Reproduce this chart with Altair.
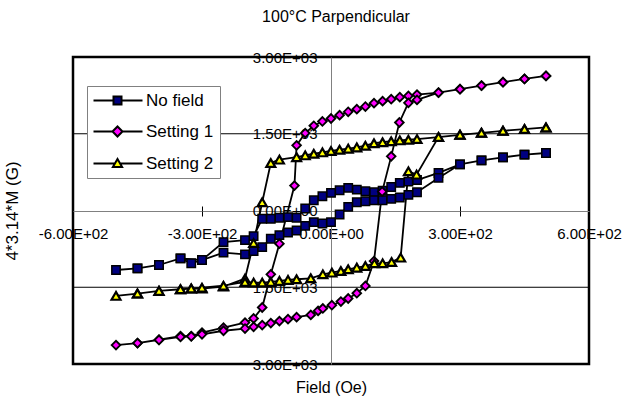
import altair as alt
import pandas as pd

FONT = "Liberation Sans"

SERIES = ["No field", "Setting 1", "Setting 2"]
FILLS = ["#000080", "#FF00FF", "#FFFF00"]
SHAPES = ["square", "diamond", "triangle-up"]
MARKER_SIZES = [70, 80, 80]
MARKER_STROKES = [1.5, 2.2, 2.0]

# Field (Oe) and 4*3.14*M (G), in the order the points are joined
NF_H = [500, 450, 400, 350, 300, 250, 200, 180, 160, 140, 120, 100, 80, 60, 40, 20, 0,
        -20, -40, -60, -80, -100, -120, -140, -160, -180, -200, -250, -300, -325, -350,
        -400, -450, -500,
        -450, -400, -350, -300, -250, -200, -180, -160, -140, -120, -100, -80, -60, -40,
        -20, 0, 20, 40, 60, 80, 100, 120, 140, 160, 180, 200, 250, 300, 350, 400, 450, 500]
NF_M = [1124, 1091, 1038, 980, 902, 734, 595, 565, 539, 460, 385, 357, 376, 409, 442, 396, 345,
        279, 201, 40, -142, -130, -142, -162, -162, -500, -578, -617, -968, -1032, -935,
        -1065, -1130, -1163,
        -1130, -1065, -935, -968, -824, -857, -793, -715, -552, -481, -430, -390, -300, -228,
        -253, -228, -78, 72, 162, 181, 201, 201, 228, 253, 305, 357, 637, 902, 980, 1038, 1091, 1124]

S1_H = [500, 450, 400, 350, 300, 250, 200, 180, 160, 140, 120, 100, 80, 60, 40, 20, 0,
        -20, -40, -60, -80, -85, -120, -140, -160, -180, -200, -250, -300, -325, -350,
        -400, -450, -500,
        -450, -400, -350, -325, -300, -250, -200, -180, -160, -140, -120, -100, -80, -47,
        -30, -19, 2, 23, 40, 60, 80, 100, 119, 140, 159, 180, 200, 250, 300, 350, 400, 450, 500]
S1_M = [2630, 2571, 2507, 2441, 2370, 2305, 2266, 2240, 2215, 2175, 2137, 2098, 2032, 1981, 1929, 1864, 1798,
        1740, 1656, 1513, 1273, 487, -649, -1247, -1896, -2110, -2190, -2290, -2386, -2455, -2455,
        -2526, -2591, -2630,
        -2591, -2530, -2470, -2460, -2420, -2350, -2307, -2273, -2240, -2201, -2162, -2123, -2084, -2040,
        -1962, -1915, -1851, -1779, -1720, -1617, -1475, -988, 370, 1058, 1720, 2104, 2162, 2305, 2370,
        2441, 2507, 2571, 2630]

S2_H = [500, 450, 400, 350, 300, 250, 200, 180, 160, 140, 120, 100, 80, 60, 40, 20, 0,
        -20, -40, -60, -80, -120, -140, -160, -180, -200, -250, -300, -325, -350,
        -400, -450, -500,
        -450, -400, -350, -325, -300, -250, -200, -180, -160, -140, -120, -100, -80, -47,
        -19, 2, 23, 40, 60, 80, 101, 120, 141, 162, 180, 199, 250, 300, 350, 400, 450, 500]
S2_M = [1623, 1591, 1558, 1519, 1480, 1435, 1396, 1383, 1370, 1354, 1334, 1315, 1266, 1233, 1208, 1188, 1163,
        1136, 1110, 1077, 1042, 994, 929, 162, -637, -1330, -1486, -1525, -1525, -1539,
        -1572, -1623, -1669,
        -1623, -1572, -1539, -1525, -1510, -1470, -1397, -1409, -1409, -1396, -1376, -1357, -1344, -1325,
        -1247, -1214, -1182, -1149, -1117, -1085, -1032, -1032, -1007, -921, 766, 701, 1435, 1480,
        1519, 1558, 1591, 1623]

X_TICKS = [-600, -300, 0, 300, 600]
X_LABELS = ["-6.00E+02", "-3.00E+02", "0.00E+00", "3.00E+02", "6.00E+02"]
Y_TICKS = [-3000, -1500, 0, 1500, 3000]
Y_LABELS = ["3.00E+03", "1.50E+03", "0.00E+00", "1.50E+03", "3.00E+03"]
GRID_Y = [-1500, 1500]
X_MINOR = [-300, 0, 300]

rows = []
for name, hs, ms in [(SERIES[0], NF_H, NF_M), (SERIES[1], S1_H, S1_M), (SERIES[2], S2_H, S2_M)]:
    for i, (h, m) in enumerate(zip(hs, ms)):
        rows.append({"series": name, "idx": i, "H": h, "M": m})
df = pd.DataFrame(rows)
grid_df = pd.DataFrame({"M": GRID_Y})


def label_expr(vals, labels):
    parts = [f"datum.value == {v} ? '{l}'" for v, l in zip(vals, labels)]
    return " : ".join(parts) + " : ''"


W, H = 516, 307
PAD_L, PAD_T = 73, 57
xscale = alt.Scale(domain=[-600, 600], nice=False, zero=False)
yscale = alt.Scale(domain=[-3000, 3000], nice=False, zero=False)

x_axis = alt.Axis(values=X_TICKS, labelExpr=label_expr(X_TICKS, X_LABELS), orient="bottom",
                  offset=-(H / 2 - 0.5), domainColor="#808080", domainWidth=1,
                  ticks=True, tickColor="black", tickSize=5, tickWidth=1,
                  labelPadding=10, labelFont=FONT, labelFontSize=15, labelColor="black",
                  labelFlush=False, labelOverlap=False, grid=False,
                  title="Field (Oe)", titleFont=FONT, titleFontSize=16, titleFontWeight="normal",
                  titleColor="black", titleX=W / 2, titleY=176, titleAlign="center",
                  titleBaseline="middle")
y_axis = alt.Axis(values=Y_TICKS, labelExpr=label_expr(Y_TICKS, Y_LABELS), orient="left",
                  offset=-W / 2, domainColor="#808080", domainWidth=1,
                  ticks=False, labelPadding=14, labelFont=FONT, labelFontSize=15,
                  labelColor="black", labelAlign="right", labelBaseline="middle",
                  labelFlush=False, labelOverlap=False, grid=False,
                  title="4*3.14*M (G)", titleFont=FONT, titleFontSize=17, titleFontWeight="normal",
                  titleColor="black", titleAngle=270, titleX=12 - (PAD_L + W / 2),
                  titleY=H / 2, titleAlign="center", titleBaseline="middle")
x_top = alt.Axis(values=X_MINOR, orient="top", offset=-(H / 2 + 0.5), labels=False, domain=False,
                 ticks=True, tickColor="black", tickSize=5, tickWidth=1, grid=False, title=None)

grid = alt.Chart(grid_df).mark_rule(color="black", strokeWidth=1).encode(
    y=alt.Y("M:Q", scale=yscale, axis=y_axis)
)

lines = alt.Chart(df).mark_line(color="black", strokeWidth=1.8).encode(
    x=alt.X("H:Q", scale=xscale, axis=x_axis),
    y=alt.Y("M:Q", scale=yscale, axis=y_axis),
    detail="series:N",
    order="idx:Q",
)

points = alt.Chart(df).mark_point(filled=True, stroke="black", opacity=1).encode(
    x=alt.X("H:Q", scale=xscale, axis=x_top),
    y=alt.Y("M:Q", scale=yscale, axis=y_axis),
    fill=alt.Fill("series:N", scale=alt.Scale(domain=SERIES, range=FILLS), legend=None),
    shape=alt.Shape("series:N", scale=alt.Scale(domain=SERIES, range=SHAPES), legend=None),
    size=alt.Size("series:N", scale=alt.Scale(domain=SERIES, range=MARKER_SIZES), legend=None),
    strokeWidth=alt.StrokeWidth("series:N", scale=alt.Scale(domain=SERIES, range=MARKER_STROKES),
                                legend=None),
)

# legend symbols: a short line with the series marker in it (unit = 4 px)
LEG_PATHS = [
    "M-2,0H3M5,0H10.25M3,-1H5V1H3Z",
    "M-2,0H2.75M5.25,0H10.25M2.75,0L4,-1.25L5.25,0L4,1.25Z",
    "M-2,0H3.37M4.63,0H10.25M4,-1.1L5.15,0.9L2.85,0.9Z",
]
leg = alt.Legend(title=None, orient="none", legendX=14, legendY=29, padding=6,
                 strokeColor="#808080", fillColor="white", labelFont=FONT, labelFontSize=17,
                 labelColor="black", symbolSize=64, symbolStrokeWidth=2,
                 labelOffset=36, rowPadding=13)
legend_layer = alt.Chart(df).transform_filter("false").mark_point(
    filled=True, stroke="black", strokeWidth=2, opacity=1
).encode(
    fill=alt.Fill("series:N", scale=alt.Scale(domain=SERIES, range=FILLS), legend=leg),
    shape=alt.Shape("series:N", scale=alt.Scale(domain=SERIES, range=LEG_PATHS), legend=leg),
    stroke=alt.Stroke("series:N", scale=alt.Scale(domain=SERIES, range=["black", "black", "black"]),
                      legend=leg),
)

chart = alt.layer(grid, lines, points, legend_layer).resolve_scale(
    fill="independent", shape="independent", stroke="independent",
    size="independent", strokeWidth="independent"
).resolve_axis(x="independent").properties(
    width=W, height=H,
    title=alt.TitleParams("100°C Parpendicular", font=FONT, fontSize=16, fontWeight="normal",
                          color="black", anchor="middle", frame="group", offset=12,
                          baseline="alphabetic", dx=5),
    autosize=alt.AutoSizeParams(type="none"),
    padding={"left": PAD_L, "top": PAD_T, "right": 34, "bottom": 34},
    background="white",
).configure_view(stroke="black", strokeWidth=2.5).configure_legend(
    strokeColor="#808080", fillColor="white", strokeWidth=1
)

chart.save("out.html", embed_options={"renderer": "svg", "actions": False})
